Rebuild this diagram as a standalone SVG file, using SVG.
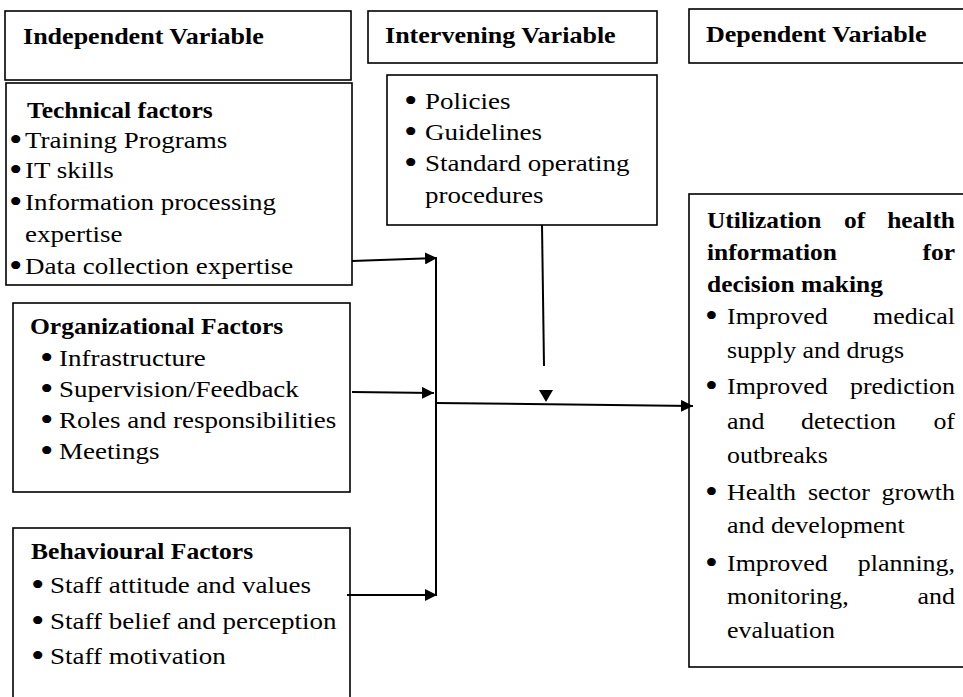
<svg xmlns="http://www.w3.org/2000/svg" width="963" height="697" viewBox="0 0 963 697">
<style>
.bx{fill:#fff;stroke:#000;stroke-width:1.6}
.ln{stroke:#000;stroke-width:2;fill:none}
text{font-family:"Liberation Serif","Times New Roman",serif;font-size:24px;fill:#000}
.b{font-weight:bold}
.bu{font-size:34px}
</style>
<defs>
<marker id="ah" markerUnits="userSpaceOnUse" markerWidth="13" markerHeight="12" refX="12" refY="6" orient="auto">
<path d="M0,0 L12,6 L0,12 z" fill="#000"/>
</marker>
</defs>
<rect width="963" height="697" fill="#fff"/>

<g id="hdr-independent">
<rect class="bx" x="5" y="11" width="346" height="69"/>
<text class="b" transform="matrix(1.085 0 0 1 23 44)">Independent Variable</text>
</g>
<g id="hdr-intervening">
<rect class="bx" x="368" y="11" width="289" height="52"/>
<text class="b" transform="matrix(1.085 0 0 1 385 43)">Intervening Variable</text>
</g>
<g id="hdr-dependent">
<rect class="bx" x="689" y="9" width="290" height="54"/>
<text class="b" transform="matrix(1.085 0 0 1 706 42)">Dependent Variable</text>
</g>

<g id="technical">
<rect class="bx" x="6" y="83" width="346" height="202"/>
<text class="b" transform="matrix(1.065 0 0 1 27 118)">Technical factors</text>
<text class="bu" transform="matrix(1.125 0 0 1 9 151)">•</text><text transform="matrix(1.125 0 0 1 25 148)">Training Programs</text>
<text class="bu" transform="matrix(1.125 0 0 1 9 181)">•</text><text transform="matrix(1.125 0 0 1 25 178)">IT skills</text>
<text class="bu" transform="matrix(1.125 0 0 1 9 213)">•</text><text transform="matrix(1.125 0 0 1 25 210)">Information processing</text>
<text transform="matrix(1.125 0 0 1 25 242)">expertise</text>
<text class="bu" transform="matrix(1.125 0 0 1 9 277)">•</text><text transform="matrix(1.125 0 0 1 25 274)">Data collection expertise</text>
</g>

<g id="organizational">
<rect class="bx" x="13" y="303" width="337" height="189"/>
<text class="b" transform="matrix(1.065 0 0 1 30 334)">Organizational Factors</text>
<text class="bu" transform="matrix(1.125 0 0 1 40 369)">•</text><text transform="matrix(1.125 0 0 1 59 366)">Infrastructure</text>
<text class="bu" transform="matrix(1.125 0 0 1 40 400)">•</text><text transform="matrix(1.125 0 0 1 59 397)">Supervision/Feedback</text>
<text class="bu" transform="matrix(1.125 0 0 1 40 431)">•</text><text transform="matrix(1.125 0 0 1 59 428)">Roles and responsibilities</text>
<text class="bu" transform="matrix(1.125 0 0 1 40 462)">•</text><text transform="matrix(1.125 0 0 1 59 459)">Meetings</text>
</g>

<g id="behavioural">
<rect class="bx" x="13" y="528" width="337" height="180"/>
<text class="b" transform="matrix(1.065 0 0 1 31 559)">Behavioural Factors</text>
<text class="bu" transform="matrix(1.125 0 0 1 31 596)">•</text><text transform="matrix(1.125 0 0 1 50 593)">Staff attitude and values</text>
<text class="bu" transform="matrix(1.125 0 0 1 31 632)">•</text><text transform="matrix(1.125 0 0 1 50 629)">Staff belief and perception</text>
<text class="bu" transform="matrix(1.125 0 0 1 31 667)">•</text><text transform="matrix(1.125 0 0 1 50 664)">Staff motivation</text>
</g>

<g id="intervening">
<rect class="bx" x="387" y="75" width="270" height="150"/>
<text class="bu" transform="matrix(1.125 0 0 1 404 112)">•</text><text transform="matrix(1.125 0 0 1 425 109)">Policies</text>
<text class="bu" transform="matrix(1.125 0 0 1 404 143)">•</text><text transform="matrix(1.125 0 0 1 425 140)">Guidelines</text>
<text class="bu" transform="matrix(1.125 0 0 1 404 174)">•</text><text transform="matrix(1.125 0 0 1 425 171)">Standard operating</text>
<text transform="matrix(1.125 0 0 1 425 203)">procedures</text>
</g>

<g id="dependent">
<rect class="bx" x="689" y="194" width="290" height="473"/>
<text class="b" transform="matrix(1.06 0 0 1 707 228)">Utilization</text>
<text class="b" transform="matrix(1.06 0 0 1 844 228)">of</text>
<text class="b" text-anchor="end" transform="matrix(1.06 0 0 1 955 228)">health</text>
<text class="b" transform="matrix(1.06 0 0 1 707 260)">information</text>
<text class="b" text-anchor="end" transform="matrix(1.06 0 0 1 955 260)">for</text>
<text class="b" transform="matrix(1.06 0 0 1 707 292)">decision making</text>
<text class="bu" transform="matrix(1.08 0 0 1 705 327)">•</text><text transform="matrix(1.08 0 0 1 727 324)">Improved</text>
<text text-anchor="end" transform="matrix(1.08 0 0 1 955 324)">medical</text>
<text transform="matrix(1.08 0 0 1 727 358)">supply and drugs</text>
<text class="bu" transform="matrix(1.08 0 0 1 705 397)">•</text><text transform="matrix(1.08 0 0 1 727 394)">Improved</text>
<text text-anchor="end" transform="matrix(1.08 0 0 1 955 394)">prediction</text>
<text transform="matrix(1.08 0 0 1 727 429)">and</text>
<text transform="matrix(1.08 0 0 1 801 429)">detection</text>
<text text-anchor="end" transform="matrix(1.08 0 0 1 955 429)">of</text>
<text transform="matrix(1.08 0 0 1 727 463)">outbreaks</text>
<text class="bu" transform="matrix(1.08 0 0 1 705 503)">•</text><text transform="matrix(1.08 0 0 1 727 500)">Health</text>
<text transform="matrix(1.08 0 0 1 808 500)">sector</text>
<text text-anchor="end" transform="matrix(1.08 0 0 1 955 500)">growth</text>
<text transform="matrix(1.08 0 0 1 727 533)">and development</text>
<text class="bu" transform="matrix(1.08 0 0 1 705 574)">•</text><text transform="matrix(1.08 0 0 1 727 571)">Improved</text>
<text text-anchor="end" transform="matrix(1.08 0 0 1 955 571)">planning,</text>
<text transform="matrix(1.08 0 0 1 727 604)">monitoring,</text>
<text text-anchor="end" transform="matrix(1.08 0 0 1 955 604)">and</text>
<text transform="matrix(1.08 0 0 1 727 638)">evaluation</text>
</g>

<g id="connectors">
<line class="ln" x1="352" y1="261" x2="437" y2="258" marker-end="url(#ah)"/>
<line class="ln" x1="436" y1="258" x2="436" y2="596"/>
<line class="ln" x1="352" y1="392" x2="434" y2="393" marker-end="url(#ah)"/>
<line class="ln" x1="347" y1="595" x2="437" y2="595" marker-end="url(#ah)"/>
<line class="ln" x1="435" y1="403" x2="693" y2="406" marker-end="url(#ah)"/>
<line class="ln" x1="542" y1="225" x2="544" y2="366"/>
<path d="M539,390 L553,390 L546,402 z" fill="#000"/>
</g>
</svg>
